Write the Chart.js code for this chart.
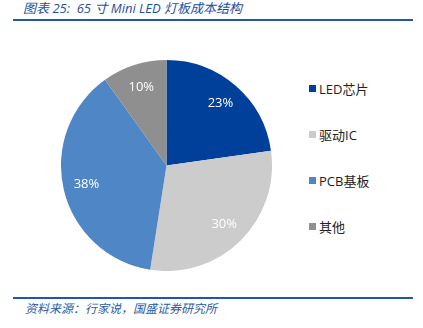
<!DOCTYPE html>
<html>
<head>
<meta charset="utf-8">
<script src="https://cdn.jsdelivr.net/npm/chart.js@4/dist/chart.umd.min.js"></script>
<style>
  html, body { margin: 0; padding: 0; background: #fff; }
  body { width: 423px; height: 328px; position: relative; overflow: hidden;
         font-family: "Open Sans", "Noto Sans CJK SC", sans-serif; }
  .title { position: absolute; left: 23px; top: -2px; font-size: 13px; font-style: italic;
           color: #1d4f9f; white-space: pre; }
  .rule { position: absolute; left: 13px; width: 400px; height: 2px; background: #2157a6; }
  .source { position: absolute; left: 25px; top: 299px; font-size: 12px; font-style: italic;
            color: #2b5aa8; white-space: pre; }
  #chartBox { position: absolute; left: 61px; top: 60px; width: 211px; height: 211px; }
  #legend { position: absolute; left: 308px; top: 79px; }
  .legend-item { height: 46px; display: flex; align-items: flex-start; font-size: 13px; color: #222; }
  .legend-item span.box { width: 7px; height: 7px; margin: 6px 3px 0 1px; flex: none; }
</style>
</head>
<body>
<div class="title">图表 25:  65 寸 Mini LED 灯板成本结构</div>
<div class="rule" style="top:19px"></div>
<div id="chartBox"><canvas id="chart"></canvas></div>
<div id="legend"></div>
<div class="rule" style="top:297px"></div>
<div class="source">资料来源：行家说，国盛证券研究所</div>
<script>
const categories = ['LED芯片', '驱动IC', 'PCB基板', '其他'];
const shares = [23, 30, 38, 10];
const sliceColors = ['#00409a', '#cccccc', '#4f86c6', '#8f8f8f'];

// percentage text drawn inside each slice
const sliceLabels = {
  id: 'sliceLabels',
  afterDatasetsDraw(chart) {
    const { ctx } = chart;
    const meta = chart.getDatasetMeta(0);
    ctx.save();
    ctx.font = '13px "Open Sans", sans-serif';
    ctx.fillStyle = '#ffffff';
    ctx.textAlign = 'center';
    ctx.textBaseline = 'middle';
    meta.data.forEach((arc, i) => {
      const mid = (arc.startAngle + arc.endAngle) / 2;
      const r = arc.outerRadius * 0.78;
      ctx.fillText(`${shares[i]}%`, arc.x + Math.cos(mid) * r, arc.y + Math.sin(mid) * r);
    });
    ctx.restore();
  },
};

const buildLegend = () => {
  const legendEl = document.getElementById('legend');
  categories.forEach((name, i) => {
    const item = document.createElement('div');
    item.className = 'legend-item';
    const box = document.createElement('span');
    box.className = 'box';
    box.style.background = sliceColors[i];
    const text = document.createElement('span');
    text.textContent = name;
    item.append(box, text);
    legendEl.appendChild(item);
  });
};

const init = () => {
  buildLegend();
  new Chart(document.getElementById('chart').getContext('2d'), {
    type: 'pie',
    data: {
      labels: categories,
      datasets: [{
        data: shares,
        backgroundColor: sliceColors,
        borderWidth: 0,
      }],
    },
    options: {
      responsive: true,
      maintainAspectRatio: false,
      animation: false,
      layout: { padding: 0 },
      plugins: {
        legend: { display: false },
        tooltip: { enabled: false },
      },
    },
    plugins: [sliceLabels],
  });
};

document.addEventListener('DOMContentLoaded', init);
</script>
</body>
</html>
